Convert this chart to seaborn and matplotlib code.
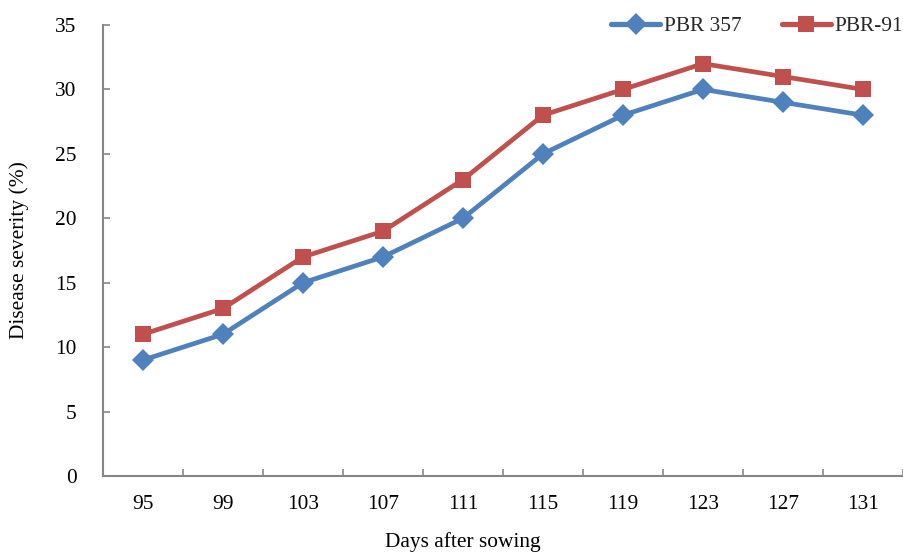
import matplotlib
matplotlib.use("Agg")
import matplotlib.pyplot as plt
import seaborn as sns
import pandas as pd
import numpy as np

days = ["95", "99", "103", "107", "111", "115", "119", "123", "127", "131"]
pbr_357 = [9, 11, 15, 17, 20, 25, 28, 30, 29, 28]
pbr_91 = [11, 13, 17, 19, 23, 28, 30, 32, 31, 30]
series_names = ["PBR 357", "PBR-91"]

sns.set_theme(style="white")
plt.rcParams["font.family"] = ["Liberation Serif", "DejaVu Serif"]

pos = np.arange(len(days))
df = pd.DataFrame({
    "pos": np.concatenate([pos, pos]),
    "value": pbr_357 + pbr_91,
    "variety": [series_names[0]] * len(days) + [series_names[1]] * len(days),
})

fig = plt.figure(figsize=(9.04, 5.53), dpi=100)
ax = fig.add_axes([0.1139, 0.1392, 0.885, 0.8156])

fs = 15.4
palette = {series_names[0]: "#4F81BD", series_names[1]: "#C0504D"}
markers = {series_names[0]: "D", series_names[1]: "s"}
sns.lineplot(data=df, x="pos", y="value", hue="variety", style="variety",
             palette=palette, markers=markers, dashes=False, linewidth=3.4,
             markersize=11, markeredgewidth=0, ax=ax, legend=False)

ax.set_xlim(-0.5, len(days) - 0.5)
ax.set_ylim(0, 35)
ax.set_yticks(range(0, 36, 5))
ax.set_xticks(pos)
ax.set_xticklabels(days)
ax.set_xticks(np.arange(0.5, len(days) - 0.5 + 0.01, 1), minor=True)
ax.tick_params(axis="x", which="major", length=0, pad=14, labelsize=fs, colors="black")
ax.tick_params(axis="x", which="minor", direction="in", length=5, width=1.2, color="#868686", bottom=True)
ax.tick_params(axis="y", which="major", direction="in", length=5, width=1.2, color="#868686",
               left=True, pad=19, labelsize=fs, labelcolor="black")

for side in ["top", "right"]:
    ax.spines[side].set_visible(False)
for side in ["left", "bottom"]:
    ax.spines[side].set_color("#868686")
    ax.spines[side].set_linewidth(1.5)

ax.set_xlabel("Days after sowing", fontsize=fs, color="black")
ax.xaxis.set_label_coords(0.45, -0.124)
ax.set_ylabel("Disease severity (%)", fontsize=fs, color="black")
ax.yaxis.set_label_coords(-0.092, 0.5)

handles = [
    plt.Line2D([], [], color="#4F81BD", lw=3.8, marker="D", markersize=11, markeredgewidth=0),
    plt.Line2D([], [], color="#C0504D", lw=3.8, marker="s", markersize=11, markeredgewidth=0),
]
fig.legend(handles, series_names, loc="upper right", bbox_to_anchor=(1.02, 1.005),
           ncol=2, frameon=False, fontsize=fs, handlelength=2.3, handletextpad=0.15,
           columnspacing=1.9)

fig.savefig("out.png", dpi=100)
